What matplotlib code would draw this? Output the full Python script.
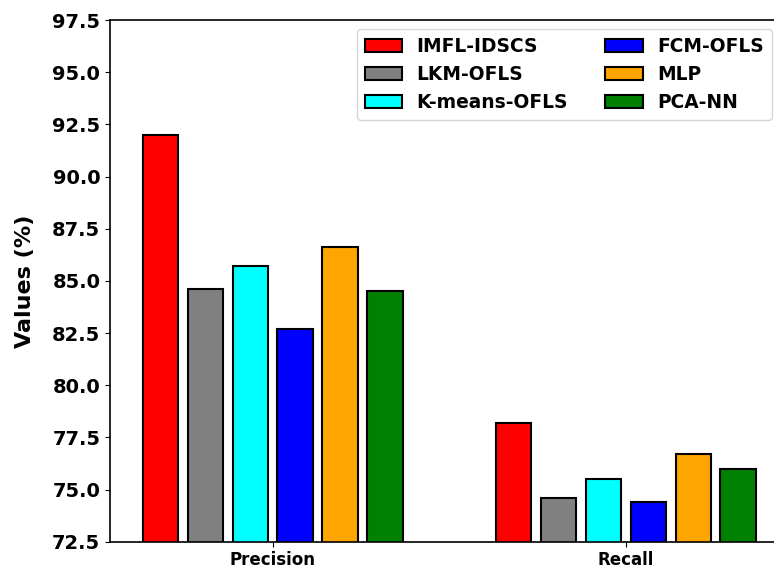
import matplotlib
matplotlib.use("Agg")
import matplotlib.pyplot as plt
import numpy as np

metrics = ["Precision", "Recall"]
methods = ["IMFL-IDSCS", "LKM-OFLS", "K-means-OFLS", "FCM-OFLS", "MLP", "PCA-NN"]
colors = ["red", "gray", "cyan", "blue", "orange", "green"]

precision = [92.0, 84.6, 85.7, 82.7, 86.6, 84.5]
recall = [78.2, 74.6, 75.5, 74.4, 76.7, 76.0]

fig = plt.figure(figsize=(7.74, 5.71), dpi=100)
# right spine sits just past the image edge, as in the reference
ax = fig.add_axes([110 / 774, 1 - 541.7 / 571, 671 / 774, 521.7 / 571])

x = np.arange(len(metrics))
width = 0.1
step = 0.127
for i, name in enumerate(methods):
    vals = [precision[i], recall[i]]
    ax.bar(x + (i - 2.5) * step, vals, width, color=colors[i],
           edgecolor="black", linewidth=1.5, label=name)

ax.set_ylim(72.5, 97.5)
ax.set_xlim(-0.4605, 1.4388)
ax.set_yticks(np.arange(72.5, 97.6, 2.5))
ax.set_yticklabels([f"{v:.1f}" for v in np.arange(72.5, 97.6, 2.5)],
                   fontsize=14, fontweight="bold")
ax.set_xticks(x)
ax.set_xticklabels(metrics, fontsize=12, fontweight="bold")
ax.set_ylabel("Values (%)", fontsize=16, fontweight="bold", labelpad=12)
for s in ax.spines.values():
    s.set_linewidth(1.2)

leg = ax.legend(ncol=2, loc="upper right", prop={"size": 13.4, "weight": "bold"})

fig.savefig("out.png", dpi=100)
